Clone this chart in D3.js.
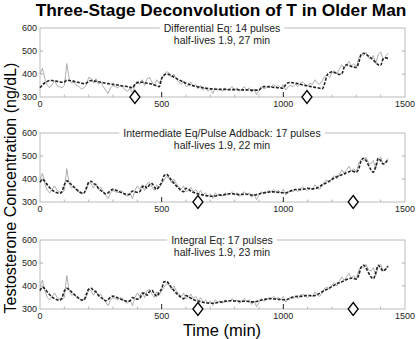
<!DOCTYPE html>
<html>
<head>
<meta charset="utf-8">
<script src="https://cdn.jsdelivr.net/npm/d3@7"></script>
<style>
  body { margin: 0; background: #fff; }
  svg { display: block; font-family: "Liberation Sans", Arial, Helvetica, sans-serif; }
</style>
</head>
<body>
<svg id="chart" width="418" height="339"></svg>
<script>
// sampling times (min), every 10 min
const times = [
  0, 10, 20, 30, 40, 50, 60, 70, 80, 90,
  100, 110, 120, 130, 140, 150, 160, 170, 180, 190,
  200, 210, 220, 230, 240, 250, 260, 270, 280, 290,
  300, 310, 320, 330, 340, 350, 360, 370, 380, 390,
  400, 410, 420, 430, 440, 450, 460, 470, 480, 490,
  500, 510, 520, 530, 540, 550, 560, 570, 580, 590,
  600, 610, 620, 630, 640, 650, 660, 670, 680, 690,
  700, 710, 720, 730, 740, 750, 760, 770, 780, 790,
  800, 810, 820, 830, 840, 850, 860, 870, 880, 890,
  900, 910, 920, 930, 940, 950, 960, 970, 980, 990,
  1000, 1010, 1020, 1030, 1040, 1050, 1060, 1070, 1080, 1090,
  1100, 1110, 1120, 1130, 1140, 1150, 1160, 1170, 1180, 1190,
  1200, 1210, 1220, 1230, 1240, 1250, 1260, 1270, 1280, 1290,
  1300, 1310, 1320, 1330, 1340, 1350, 1360, 1370, 1380, 1390,
  1400, 1410, 1420, 1430
];

// measured T (ng/dL), same in all panels
const observed = [
  400, 425, 380, 350, 340, 355, 370, 350, 345, 340,
  350, 445, 380, 360, 365, 350, 345, 335, 340, 350,
  385, 380, 360, 380, 355, 365, 345, 330, 315, 340,
  350, 345, 340, 350, 345, 330, 325, 340, 315, 350,
  370, 355, 375, 350, 380, 385, 365, 350, 375, 360,
  380, 395, 410, 405, 385, 400, 380, 365, 355, 370,
  345, 350, 365, 345, 355, 335, 350, 330, 340, 325,
  335, 315, 340, 330, 335, 325, 340, 330, 335, 345,
  330, 340, 325, 335, 345, 330, 340, 320, 335, 310,
  330, 345, 335, 340, 350, 345, 355, 345, 350, 340,
  355, 330, 345, 350, 345, 355, 345, 360, 365, 355,
  350, 360, 355, 375, 360, 355, 370, 390, 395, 385,
  405, 415, 400, 420, 440, 425, 440, 455, 435, 445,
  430, 470, 485, 480, 495, 470, 465, 480, 445, 485,
  495, 465, 475, 490
];

// fitted curves
const fitDifferential = [
  340, 352, 362, 368, 372, 372, 370, 368, 366, 364,
  365, 373, 372, 370, 368, 366, 363, 360, 358, 360,
  368, 372, 370, 368, 366, 364, 362, 360, 358, 356,
  355, 353, 352, 350, 348, 347, 345, 343, 340, 355,
  362, 364, 364, 362, 360, 358, 356, 352, 348, 345,
  380, 395, 400, 398, 393, 387, 381, 375, 370, 365,
  360, 356, 352, 349, 346, 344, 342, 340, 338, 337,
  336, 335, 334, 334, 333, 333, 333, 332, 332, 332,
  332, 332, 331, 331, 331, 331, 330, 330, 330, 330,
  330, 340, 345, 345, 344, 343, 342, 341, 340, 339,
  338, 355, 362, 363, 362, 360, 358, 355, 352, 350,
  348, 346, 344, 342, 340, 338, 336, 360, 395, 405,
  410, 406, 402, 398, 400, 430, 440, 437, 433, 430,
  428, 450, 485, 490, 485, 478, 470, 460, 450, 440,
  438, 465, 470, 468
];

const fitIntermediate = [
  385, 398, 390, 375, 362, 352, 345, 340, 338, 345,
  375, 392, 385, 375, 365, 355, 345, 340, 338, 360,
  385, 390, 380, 375, 360, 350, 342, 335, 340, 350,
  355, 352, 348, 343, 338, 335, 332, 335, 348, 345,
  342, 345, 365, 370, 360, 375, 380, 365, 355, 370,
  385, 415, 420, 410, 395, 382, 370, 360, 350, 345,
  360, 355, 348, 342, 338, 335, 333, 330, 328, 326,
  325, 325, 326, 328, 330, 330, 332, 335, 336, 336,
  335, 333, 332, 333, 335, 334, 332, 330, 330, 332,
  335, 338, 340, 342, 343, 344, 344, 343, 342, 340,
  340, 340, 342, 348, 352, 354, 355, 354, 355, 358,
  360, 358, 357, 358, 362, 368, 375, 380, 385, 392,
  398, 405, 410, 415, 418, 422, 428, 432, 435, 432,
  430, 445, 480, 490, 480, 460, 440, 430, 455, 490,
  480, 465, 470, 485
];

const fitIntegral = [
  380, 395, 388, 374, 362, 352, 345, 340, 338, 348,
  378, 390, 384, 374, 364, 355, 346, 340, 338, 362,
  386, 390, 381, 374, 360, 350, 343, 336, 341, 351,
  356, 352, 348, 343, 339, 336, 333, 336, 350, 346,
  343, 346, 366, 370, 360, 376, 381, 366, 356, 372,
  388, 418, 420, 409, 394, 381, 369, 359, 350, 345,
  358, 354, 347, 341, 337, 334, 332, 329, 327, 326,
  325, 325, 326, 328, 330, 331, 333, 335, 336, 336,
  335, 334, 333, 333, 334, 334, 332, 331, 331, 333,
  336, 339, 341, 343, 344, 345, 344, 343, 342, 341,
  340, 341, 343, 348, 352, 354, 355, 355, 356, 358,
  359, 358, 357, 359, 363, 369, 375, 381, 386, 392,
  398, 404, 410, 414, 418, 423, 428, 432, 434, 432,
  430, 448, 482, 490, 478, 458, 440, 432, 458, 490,
  478, 466, 472, 486
];

const panels = [
  { title: "Differential Eq: 14 pulses", sub: "half-lives 1.9, 27 min", fit: fitDifferential, markers: [390, 1097] },
  { title: "Intermediate Eq/Pulse Addback: 17 pulses", sub: "half-lives 1.9, 22 min", fit: fitIntermediate, markers: [649, 1287] },
  { title: "Integral Eq: 17 pulses", sub: "half-lives 1.9, 23 min", fit: fitIntegral, markers: [649, 1287] }
];

const xTicks = [0, 500, 1000, 1500];
const yTicks = [300, 400, 500, 600];

const svg = d3.select("#chart");
const left = 40, right = 405, ph = 69;
const tops = [28, 133, 240];

const x = d3.scaleLinear().domain([0, 1500]).range([left, right]);

svg.append("text")
  .attr("x", 221).attr("y", 16)
  .attr("text-anchor", "middle")
  .attr("font-size", 17.3).attr("font-weight", "bold")
  .text("Three-Stage Deconvolution of T in Older Man");

svg.append("text")
  .attr("transform", "translate(16,188) rotate(-90)")
  .attr("text-anchor", "middle")
  .attr("font-size", 16)
  .text("Testosterone Concentration (ng/dL)");

svg.append("text")
  .attr("x", 222).attr("y", 336)
  .attr("text-anchor", "middle")
  .attr("font-size", 16.5)
  .text("Time (min)");

panels.forEach((p, i) => {
  const top = tops[i], bottom = top + ph;
  const y = d3.scaleLinear().domain([300, 600]).range([bottom, top]);
  const g = svg.append("g");

  // frame
  g.append("rect")
    .attr("x", left).attr("y", top)
    .attr("width", right - left).attr("height", ph)
    .attr("fill", "none").attr("stroke", "#aaa").attr("stroke-width", 0.8);

  // minor ticks along bottom
  g.selectAll(".minor").data(d3.range(100, 1500, 100).filter(d => d % 500))
    .enter().append("line")
    .attr("x1", d => x(d)).attr("x2", d => x(d))
    .attr("y1", bottom).attr("y2", bottom - 2.5)
    .attr("stroke", "#aaa").attr("stroke-width", 0.8);

  // y ticks inside both sides
  [400, 500].forEach(v => {
    g.append("line").attr("x1", left).attr("x2", left + 3).attr("y1", y(v)).attr("y2", y(v)).attr("stroke", "#aaa");
    g.append("line").attr("x1", right).attr("x2", right - 3).attr("y1", y(v)).attr("y2", y(v)).attr("stroke", "#aaa");
  });

  // major x ticks
  [500, 1000].forEach(v => {
    g.append("line").attr("x1", x(v)).attr("x2", x(v))
      .attr("y1", bottom).attr("y2", bottom - 5)
      .attr("stroke", "#222").attr("stroke-width", 1);
  });

  g.selectAll(".xl").data(xTicks).enter().append("text")
    .attr("x", d => x(d)).attr("y", bottom + 10)
    .attr("text-anchor", "middle").attr("font-size", 9).attr("fill", "#222")
    .text(d => d);

  g.selectAll(".yl").data(yTicks).enter().append("text")
    .attr("x", left - 3).attr("y", d => y(d) + 3)
    .attr("text-anchor", "end").attr("font-size", 9).attr("fill", "#222")
    .text(d => d);

  const line = d3.line().x((d, j) => x(times[j])).y(d => y(d));

  g.append("path").datum(observed)
    .attr("d", line).attr("fill", "none")
    .attr("stroke", "#9a9a9a").attr("stroke-width", 0.8);

  g.append("path").datum(p.fit)
    .attr("d", line.curve(d3.curveMonotoneX)).attr("fill", "none")
    .attr("stroke", "#222").attr("stroke-width", 1.6)
    .attr("stroke-dasharray", "3,1.5");

  // pulse markers (diamonds)
  g.selectAll(".dm").data(p.markers).enter().append("path")
    .attr("d", d => `M${x(d)},${bottom - 6.5} l5,6.5 l-5,6.5 l-5,-6.5 z`)
    .attr("fill", "#fff").attr("stroke", "#000").attr("stroke-width", 1.3);

  // panel labels
  const t1 = g.append("text")
    .attr("x", 222).attr("y", top + 4)
    .attr("text-anchor", "middle").attr("font-size", 10.5).attr("fill", "#222")
    .text(p.title);
  const bb = t1.node().getBBox();
  g.insert("rect", "text")
    .attr("x", bb.x - 4).attr("y", top - 2)
    .attr("width", bb.width + 8).attr("height", 4)
    .attr("fill", "#fff");
  g.append("text")
    .attr("x", 222).attr("y", top + 16)
    .attr("text-anchor", "middle").attr("font-size", 10.5).attr("fill", "#222")
    .text(p.sub);
});
</script>
</body>
</html>
